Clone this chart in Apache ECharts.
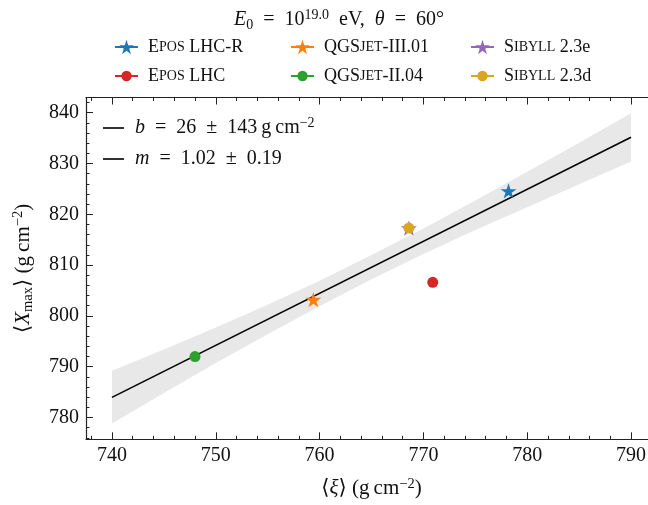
<!DOCTYPE html>
<html>
<head>
<meta charset="utf-8">
<script src="https://cdn.jsdelivr.net/npm/echarts@6/dist/echarts.min.js"></script>
<style>
  html, body { margin: 0; padding: 0; background: #fff; overflow: hidden; }
  #chart { width: 648px; height: 505px; }
</style>
</head>
<body>
<div id="chart"></div>
<script>
// Mean depth of shower maximum vs. mean of the xi estimator, per hadronic model
const models = ['Epos LHC-R', 'QGSjet-III.01', 'Sibyll 2.3e', 'Epos LHC', 'QGSjet-II.04', 'Sibyll 2.3d'];
const xiMean = [778.2, 759.4, 768.6, 770.9, 748.0, 768.6];
const xmaxMean = [824.6, 803.2, 817.3, 806.6, 792.0, 817.3];
const modelMarkers = ['star', 'star', 'star', 'circle', 'circle', 'circle'];

// Linear fit <Xmax> = b + m <xi>
const fitB = 26.2, fitBErr = 143;
const fitM = 1.024, fitMErr = 0.19;
const fitXiRange = [740, 790];

// Confidence band of the fit
const bandXi   = [740, 745, 750, 755, 760, 765, 770, 775, 780, 785, 790];
const bandLow  = [778.8, 784.8, 790.7, 796.4, 801.9, 807.2, 812.2, 816.9, 821.4, 825.9, 830.4];
const bandHigh = [789.2, 793.4, 797.7, 802.2, 806.9, 812.0, 817.2, 822.7, 828.4, 834.1, 839.9];

// Tick labels
const xTickValues = [740, 750, 760, 770, 780, 790];
const yTickValues = [780, 790, 800, 810, 820, 830, 840];

// ---- styling ----
const modelColors = ['#1f77b4', '#ff7f0e', '#9467bd', '#d62728', '#2ca02c', '#daa520'];
const SERIF = 'Liberation Serif, DejaVu Serif, serif';
const INK = '#111';
const base = { fontFamily: SERIF, color: INK, fontWeight: 'normal' };
function richSet(fs, sc, sup) {
  return {
    n:   { ...base, fontSize: fs, lineHeight: fs + 4 },
    s:   { ...base, fontSize: sc, lineHeight: fs + 4 },
    i:   { ...base, fontSize: fs, fontStyle: 'italic', lineHeight: fs + 4 },
    sup: { ...base, fontSize: sup, lineHeight: sup, verticalAlign: 'top' },
    sub: { ...base, fontSize: sup, lineHeight: sup, verticalAlign: 'bottom' }
  };
}
const richLegend = richSet(18, 14, 13);
const richMath = richSet(20, 15, 14);
const richAxis = richSet(21, 16, 14.5);
const SP = '\u2002';   // math spacing around relations

// five-pointed star like the matplotlib '*' marker
function starPath() {
  const inner = 0.381966;
  let d = '';
  for (let k = 0; k < 10; k++) {
    const r = k % 2 === 0 ? 1 : inner;
    const a = Math.PI / 2 + k * Math.PI / 5;
    const px = (r * Math.cos(a)).toFixed(4);
    const py = (-r * Math.sin(a)).toFixed(4);
    d += (k === 0 ? 'M' : 'L') + px + ',' + py;
  }
  return 'path://' + d + 'Z';
}
const STAR = starPath();

// Names in small capitals: leading capitals kept, lower-case rest set small
function modelRich(name) {
  const m = name.match(/^([A-Z]+)([a-z]+)(.*)$/);
  if (!m) return '{n|' + name + '}';
  return '{n|' + m[1] + '}{s|' + m[2].toUpperCase() + '}{n|' + m[3] + '}';
}

const fitNameB = 'b = ' + fitB.toFixed(0) + ' ± ' + fitBErr + ' g cm-2';
const fitNameM = 'm = ' + fitM.toFixed(2) + ' ± ' + fitMErr.toFixed(2);
const fitRich = {};
fitRich[fitNameB] = '{i|b}{n|' + SP + '=' + SP + fitB.toFixed(0) + SP + '±' + SP + fitBErr + '\u2009g\u2009cm}{sup|−2}';
fitRich[fitNameM] = '{i|m}{n|' + SP + '=' + SP + fitM.toFixed(2) + SP + '±' + SP + fitMErr.toFixed(2) + '}';

// legend placement (row-major, 3 columns)
const legendCols = [114, 290, 470];
const legendRows = [49, 78];

const chart = echarts.init(document.getElementById('chart'), null, { renderer: 'canvas' });

const series = [];
// confidence band
series.push({
  type: 'custom',
  name: 'band',
  xAxisIndex: 0, yAxisIndex: 0,
  silent: true,
  z: 1,
  data: bandXi.map((x, i) => [x, bandLow[i], bandHigh[i]]),
  encode: { x: 0, y: [1, 2] },
  renderItem: function (params, api) {
    if (params.dataIndex !== 0) return null;
    const pts = [];
    for (let i = 0; i < bandXi.length; i++) pts.push(api.coord([bandXi[i], bandHigh[i]]));
    for (let i = bandXi.length - 1; i >= 0; i--) pts.push(api.coord([bandXi[i], bandLow[i]]));
    return { type: 'polygon', shape: { points: pts }, style: { fill: '#e8e8e8', stroke: null } };
  }
});
// fit line
series.push({
  type: 'line',
  name: fitNameB,
  xAxisIndex: 0, yAxisIndex: 0,
  z: 2,
  symbol: 'none',
  silent: true,
  lineStyle: { color: '#000', width: 1.6 },
  itemStyle: { color: '#000' },
  data: fitXiRange.map(x => [x, fitB + fitM * x])
});
series.push({
  type: 'line',
  name: fitNameM,
  xAxisIndex: 0, yAxisIndex: 0,
  symbol: 'none',
  silent: true,
  lineStyle: { color: '#000', width: 1.6 },
  itemStyle: { color: '#000' },
  data: []
});
// model points
models.forEach((name, i) => {
  const isStar = modelMarkers[i] === 'star';
  series.push({
    type: 'line',
    name: name,
    xAxisIndex: 0, yAxisIndex: 0,
    z: 3 + i,
    symbol: isStar ? STAR : 'circle',
    symbolKeepAspect: true,
    symbolSize: isStar ? 16 : 11,
    showSymbol: true,
    silent: true,
    itemStyle: { color: modelColors[i], opacity: 1 },
    lineStyle: { color: modelColors[i], width: 1.5 },
    data: [[xiMean[i], xmaxMean[i]]]
  });
});

const legends = [];
models.forEach((name, i) => {
  const isStar = modelMarkers[i] === 'star';
  const ih = isStar ? 18 : 13;
  legends.push({
    data: [name],
    left: legendCols[i % 3],
    top: legendRows[Math.floor(i / 3)] - 11,
    itemWidth: 23,
    itemHeight: ih,
    selectedMode: false,
    padding: 0,
    formatter: modelRich,
    textStyle: { rich: richLegend, padding: [0, 0, 0, 5] }
  });
});
[fitNameB, fitNameM].forEach((name, k) => {
  legends.push({
    data: [name],
    left: 103,
    top: [128, 161][k] - 12,
    icon: 'rect',
    itemWidth: 21,
    itemHeight: 1.6,
    selectedMode: false,
    padding: 0,
    formatter: n => fitRich[n],
    textStyle: { rich: richMath, padding: [0, 0, 0, 6] }
  });
});

const axisLine = { show: true, lineStyle: { color: '#222', width: 1.2 } };
const tickStyle = { color: '#222', width: 1 };
const majorTick = { show: true, inside: true, length: 7, lineStyle: tickStyle };
const minorTick = { show: true, splitNumber: 5, length: 3.5, lineStyle: tickStyle };
function majorFmt(list) { return v => (list.indexOf(Math.round(v * 1000) / 1000) >= 0 ? String(Math.round(v)) : ''); }

const xRange = { min: 737.5, max: 792.5 };
const yRange = { min: 775.7, max: 843.0 };
const TICK_FS = 20;

const option = {
  animation: false,
  backgroundColor: '#fff',
  title: {
    text: '{i|E}{sub|0}{n|' + SP + '=' + SP + '10}{sup|19.0}{n|' + SP + 'eV,' + SP + '}{i|θ}{n|' + SP + '=' + SP + '60°}',
    left: 334, top: 3, textAlign: 'center',
    textStyle: { rich: richMath, fontWeight: 'normal' }
  },
  legend: legends,
  // the right edge of the frame lies just past the visible area
  grid: { left: 86, width: 571, top: 97.5, height: 341.8, containLabel: false, outerBoundsMode: 'none' },
  xAxis: [
    {
      type: 'value', position: 'bottom', ...xRange, minInterval: 10, maxInterval: 10,
      axisLine: axisLine,
      axisTick: majorTick,
      minorTick: minorTick,
      axisLabel: { show: true, margin: 6, fontFamily: SERIF, fontSize: TICK_FS, color: INK, formatter: majorFmt(xTickValues), showMinLabel: false, showMaxLabel: false },
      splitLine: { show: false },
      name: '{n|⟨}{i|ξ}{n|⟩ (g\u2009cm}{sup|−2}{n|)}',
      nameLocation: 'middle', nameGap: 37,
      nameTextStyle: { rich: richAxis }
    },
    {
      type: 'value', position: 'top', ...xRange, minInterval: 10, maxInterval: 10,
      axisLine: axisLine,
      axisTick: majorTick,
      minorTick: minorTick,
      axisLabel: { show: false }, splitLine: { show: false }
    }
  ],
  yAxis: [
    {
      type: 'value', position: 'left', ...yRange, minInterval: 10, maxInterval: 10,
      axisLine: axisLine,
      axisTick: majorTick,
      minorTick: minorTick,
      axisLabel: { show: true, margin: 7, fontFamily: SERIF, fontSize: TICK_FS, color: INK, formatter: majorFmt(yTickValues), showMinLabel: false, showMaxLabel: false },
      splitLine: { show: false },
      name: '{n|⟨}{i|X}{sub|max}{n|⟩ (g\u2009cm}{sup|−2}{n|)}',
      nameLocation: 'middle', nameGap: 50, nameRotate: 90,
      nameTextStyle: { rich: richAxis }
    }
  ],
  series: series
};

chart.setOption(option);
</script>
</body>
</html>
